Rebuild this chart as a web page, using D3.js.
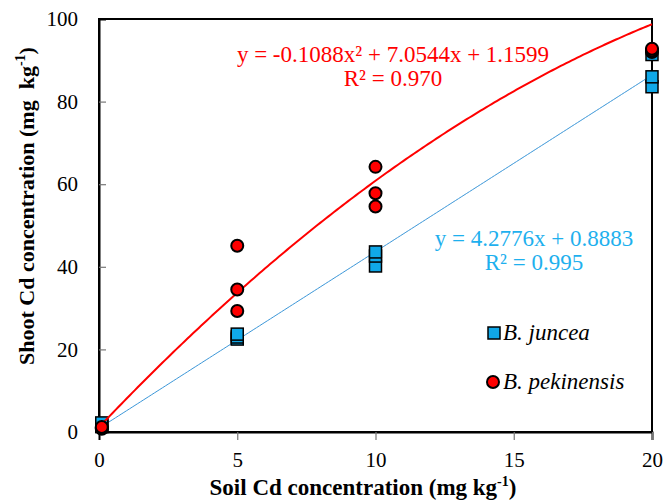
<!DOCTYPE html>
<html>
<head>
<meta charset="utf-8">
<script src="https://cdn.jsdelivr.net/npm/d3@7"></script>
<style>
  body { margin: 0; background: #fff; }
</style>
</head>
<body>
<div id="chart"></div>
<script>
'use strict';

// data
var xTicks = [0, 5, 10, 15, 20];
var yTicks = [0, 20, 40, 60, 80, 100];

var junceaX = [0.1, 0.1, 0.1, 5, 5, 5, 10, 10, 10, 20, 20, 20];
var junceaY = [1.3, 1.8, 2.2, 22.5, 23.0, 23.7, 40.2, 42.6, 43.6, 83.6, 86.0, 91.4];

var pekinX = [0.1, 0.1, 0.1, 5, 5, 5, 10, 10, 10, 20, 20, 20];
var pekinY = [0.8, 1.0, 1.2, 29.3, 34.5, 45.1, 54.6, 57.8, 64.2, 92.0, 92.4, 92.8];

// trendline coefficients [c2, c1, c0] as printed on the chart
var pekinFit = [-0.1088, 7.0544, 1.1599];
var junceaFit = [0, 4.2776, 0.8883];

var pekinLabels = ['y = -0.1088x² + 7.0544x + 1.1599', 'R² = 0.970'];
var junceaLabels = ['y = 4.2776x + 0.8883', 'R² = 0.995'];
var legendNames = ['B. juncea', 'B. pekinensis'];

var W = 663, H = 501;
var m = {left: 99, right: 11, top: 19, bottom: 69};
var FONT = "'Liberation Serif'";

var blue = '#10a8e8', blueLine = '#3a96d8', blueText = '#1eb0ee', red = '#ff0000';

var svg = d3.select('#chart').append('svg')
  .attr('width', W).attr('height', H);

var x = d3.scaleLinear().domain([0, 20]).range([m.left, W - m.right]);
var y = d3.scaleLinear().domain([0, 100]).range([H - m.bottom, m.top]);

// frame
svg.append('rect')
  .attr('x', x(0)).attr('y', y(100))
  .attr('width', x(20) - x(0)).attr('height', y(0) - y(100))
  .attr('fill', 'none').attr('stroke', '#000').attr('stroke-width', 2);

// axes
var xAxis = svg.append('g')
  .attr('transform', 'translate(0,' + y(0) + ')')
  .call(d3.axisBottom(x).tickValues(xTicks).tickSize(8).tickPadding(12));
var yAxis = svg.append('g')
  .attr('transform', 'translate(' + x(0) + ',0)')
  .call(d3.axisLeft(y).tickValues(yTicks).tickSize(-7).tickPadding(21));

[xAxis, yAxis].forEach(function(g) {
  g.select('.domain').attr('stroke', '#000').attr('stroke-width', 2);
  g.selectAll('.tick line').attr('stroke', '#777').attr('stroke-width', 1.2);
  g.selectAll('.tick text')
    .style('font-family', FONT)
    .style('font-size', '21px').attr('fill', '#000');
});
xAxis.selectAll('.tick').filter(function(d) { return d === 0; }).select('line').remove();
yAxis.selectAll('.tick').filter(function(d) { return d === 0 || d === 100; }).select('line').remove();

// trendlines
function poly(c) { return function(t) { return c[0] * t * t + c[1] * t + c[2]; }; }
var xs = d3.range(0.1, 20.001, 0.1);
var line = d3.line().x(function(d) { return x(d[0]); }).y(function(d) { return y(d[1]); });

svg.append('path')
  .datum(xs.map(function(t) { return [t, poly(junceaFit)(t)]; }))
  .attr('d', line).attr('fill', 'none').attr('stroke', blueLine).attr('stroke-width', 1);

// markers
var sq = 12;
svg.selectAll('rect.juncea')
  .data(junceaX.map(function(v, i) { return [v, junceaY[i]]; }))
  .enter().append('rect')
  .attr('class', 'juncea')
  .attr('x', function(d) { return x(d[0]) - sq / 2; })
  .attr('y', function(d) { return y(d[1]) - sq / 2; })
  .attr('width', sq).attr('height', sq)
  .attr('fill', blue).attr('stroke', '#000').attr('stroke-width', 1.5);

svg.append('path')
  .datum(xs.map(function(t) { return [t, poly(pekinFit)(t)]; }))
  .attr('d', line).attr('fill', 'none').attr('stroke', red).attr('stroke-width', 2);

svg.selectAll('circle.pekin')
  .data(pekinX.map(function(v, i) { return [v, pekinY[i]]; }))
  .enter().append('circle')
  .attr('class', 'pekin')
  .attr('cx', function(d) { return x(d[0]); })
  .attr('cy', function(d) { return y(d[1]); })
  .attr('r', 6)
  .attr('fill', red).attr('stroke', '#000').attr('stroke-width', 2);

// equations
function eqText(lines, cx, y0, color) {
  lines.forEach(function(s, i) {
    svg.append('text')
      .attr('x', cx).attr('y', y0 + i * 24)
      .attr('text-anchor', 'middle')
      .style('font-family', FONT)
      .style('font-size', '23px').attr('fill', color)
      .text(s);
  });
}
eqText(pekinLabels, 393, 62, red);
eqText(junceaLabels, 534, 246, blueText);

// legend
svg.append('rect')
  .attr('x', 488).attr('y', 327).attr('width', 12).attr('height', 12)
  .attr('fill', blue).attr('stroke', '#000').attr('stroke-width', 1.5);
svg.append('circle')
  .attr('cx', 493).attr('cy', 382).attr('r', 6)
  .attr('fill', red).attr('stroke', '#000').attr('stroke-width', 2);
legendNames.forEach(function(s, i) {
  svg.append('text')
    .attr('x', 503).attr('y', 340 + i * 49)
    .style('font-family', FONT)
    .style('font-size', '23px').style('font-style', 'italic')
    .text(s);
});

// axis titles
var xt = svg.append('text')
  .attr('x', 363).attr('y', 495)
  .attr('text-anchor', 'middle')
  .style('font-family', FONT)
  .style('font-size', '23px').style('font-weight', 'bold');
xt.append('tspan').text('Soil Cd concentration (mg kg');
xt.append('tspan').attr('dy', -9).style('font-size', '14px').text('-1');
xt.append('tspan').attr('dy', 9).text(')');

var yt = svg.append('text')
  .attr('transform', 'translate(34,206) rotate(-90)')
  .attr('text-anchor', 'middle')
  .style('font-family', FONT)
  .style('font-size', '22px').style('font-weight', 'bold');
yt.append('tspan').text('Shoot Cd concentration (mg\u00a0 kg');
yt.append('tspan').attr('dy', -9).style('font-size', '14px').text('-1');
yt.append('tspan').attr('dy', 9).text(')');
</script>
</body>
</html>
